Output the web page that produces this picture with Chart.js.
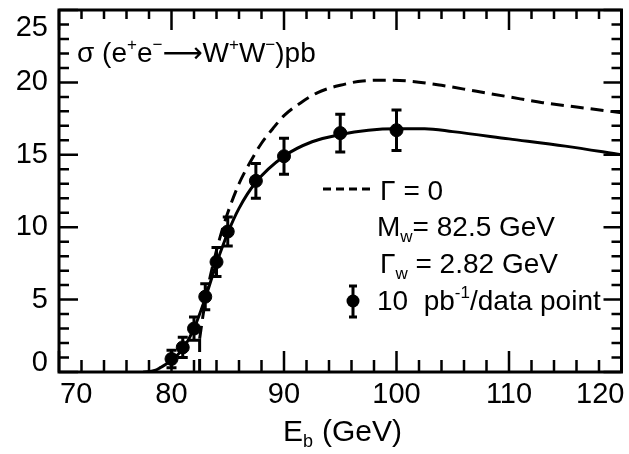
<!DOCTYPE html>
<html>
<head>
<meta charset="utf-8">
<script src="https://cdn.jsdelivr.net/npm/chart.js@4.4.0/dist/chart.umd.min.js"></script>
<style>
  html, body { margin: 0; padding: 0; background: #fff; }
  #wrap { width: 629px; height: 454px; }
</style>
</head>
<body>
<div id="wrap"><canvas id="xsec" width="629" height="454"></canvas></div>
<script>
// ── Measured points: beam energy (GeV), σ (pb), error (pb) ──
const beamEnergy = [80, 81, 82, 83, 84, 85, 87.5, 90, 95, 100];
const sigmaData  = [0.9, 1.7, 3.0, 5.2, 7.6, 9.7, 13.2, 14.9, 16.5, 16.7];
const sigmaErr   = [0.6, 0.7, 0.8, 0.9, 1.0, 1.0, 1.2, 1.25, 1.3, 1.4];

// ── Finite-width prediction (solid) ──
const widthE     = [77.5, 78.5, 79, 80, 81, 82, 83, 84, 85, 86, 87.5, 90, 92.5, 95, 97.5, 100, 102.5, 105, 110, 115, 120];
const widthSigma = [0, 0.1, 0.3, 0.8, 1.6, 3.0, 5.1, 7.5, 9.6, 11.3, 13.1, 14.9, 15.9, 16.4, 16.7, 16.8, 16.8, 16.6, 16.1, 15.6, 15.0];

// ── Zero-width prediction (dashed): step at threshold 82.5 GeV, then the curve ──
const zeroE     = [82.5, 82.5, 83, 83.5, 84, 84.5, 85, 86, 87, 88, 89, 90, 91.5, 93, 95, 97, 99, 101, 104, 107, 110, 113, 116, 120];
const zeroSigma = [0, 2.3, 4.9, 6.8, 8.4, 9.8, 11.0, 13.0, 14.5, 15.8, 16.8, 17.7, 18.6, 19.3, 19.8, 20.1, 20.15, 20.1, 19.8, 19.4, 19.0, 18.6, 18.3, 17.9];

// ── Axis ticks ──
const xTickLabels = [70, 80, 90, 100, 110, 120];
const yTickLabels = [0, 5, 10, 15, 20, 25];

const FONT = '"Liberation Sans", "DejaVu Sans", sans-serif';
const INK = '#000';

function pts(xs, ys) {
  return xs.map((x, i) => ({ x, y: ys[i] }));
}

// text made of runs, some raised or lowered
function drawRuns(ctx, x, y, runs, size) {
  runs.forEach((r) => {
    const small = r.sub || r.sup;
    ctx.font = `${small ? Math.round(size * 0.6) : size}px ${FONT}`;
    const dy = r.sub ? size * 0.2 : r.sup ? -size * 0.42 : 0;
    ctx.fillText(r.t, x, y + dy);
    x += ctx.measureText(r.t).width + (r.gap || 0);
  });
  return x;
}

function errorBar(ctx, x, yTop, yBot, cap) {
  ctx.beginPath();
  ctx.moveTo(x, yTop); ctx.lineTo(x, yBot);
  ctx.moveTo(x - cap, yTop); ctx.lineTo(x + cap, yTop);
  ctx.moveTo(x - cap, yBot); ctx.lineTo(x + cap, yBot);
  ctx.stroke();
}

const framePlugin = {
  id: 'frame',
  beforeDatasetsDraw(chart) {
    const { ctx, scales: { x, y } } = chart;
    ctx.save();
    ctx.strokeStyle = INK;
    ctx.lineWidth = 3;
    beamEnergy.forEach((e, i) => {
      errorBar(ctx, x.getPixelForValue(e),
        y.getPixelForValue(sigmaData[i] + sigmaErr[i]),
        y.getPixelForValue(sigmaData[i] - sigmaErr[i]), 5);
    });
    ctx.restore();
  },
  afterDraw(chart) {
    const { ctx, chartArea: a, scales: { x, y } } = chart;
    ctx.save();
    ctx.strokeStyle = INK;
    ctx.fillStyle = INK;
    ctx.lineWidth = 3;
    ctx.strokeRect(a.left, a.top, a.right - a.left, a.bottom - a.top);

    // inward ticks on all four sides
    ctx.lineWidth = 2.5;
    ctx.beginPath();
    for (let v = x.min; v <= x.max; v += 2) {
      const px = x.getPixelForValue(v);
      const major = v % 10 === 0;
      ctx.moveTo(px, a.bottom); ctx.lineTo(px, a.bottom - (major ? 21 : 12));
      ctx.moveTo(px, a.top); ctx.lineTo(px, a.top + (major ? 20 : 9));
    }
    for (let v = y.min; v <= y.max; v += 1) {
      const py = y.getPixelForValue(v);
      const major = v % 5 === 0;
      ctx.moveTo(a.left, py); ctx.lineTo(a.left + (major ? 19 : 10), py);
      ctx.moveTo(a.right, py); ctx.lineTo(a.right - (major ? 18 : 10), py);
    }
    ctx.stroke();

    // tick labels, kept inside the frame span
    ctx.font = `29px ${FONT}`;
    ctx.textBaseline = 'middle';
    ctx.textAlign = 'right';
    yTickLabels.forEach((v) => {
      let py = y.getPixelForValue(v);
      py = Math.min(Math.max(py, a.top + 18), a.bottom - 9);
      ctx.fillText(String(v), a.left - 11, py);
    });
    ctx.textAlign = 'left';
    ctx.textBaseline = 'alphabetic';
    xTickLabels.forEach((v) => {
      const w = ctx.measureText(String(v)).width;
      let left = x.getPixelForValue(v) - w / 2;
      left = Math.min(Math.max(left, a.left + 1), a.right + 3 - w);
      ctx.fillText(String(v), left, a.bottom + 31);
    });

    // axis title
    drawRuns(ctx, 283, 441, [{ t: 'E' }, { t: 'b', sub: true, gap: 9 }, { t: '(GeV)' }], 30);

    // panel title
    drawRuns(ctx, 77, 62, [
      { t: 'σ (e' }, { t: '+', sup: true }, { t: 'e' }, { t: '−', sup: true },
      { t: '⟶W' }, { t: '+', sup: true }, { t: 'W' }, { t: '−', sup: true }, { t: ')pb' },
    ], 28);

    // key
    ctx.lineWidth = 3;
    ctx.setLineDash([8, 5]);
    ctx.beginPath();
    ctx.moveTo(323, 189); ctx.lineTo(372, 189);
    ctx.stroke();
    ctx.setLineDash([]);
    drawRuns(ctx, 380, 200, [{ t: 'Γ', gap: 8 }, { t: '= 0' }], 28);
    drawRuns(ctx, 377, 236, [{ t: 'M' }, { t: 'w', sub: true }, { t: '= 82.5 GeV' }], 28);
    drawRuns(ctx, 380, 273, [{ t: 'Γ' }, { t: 'w', sub: true }, { t: ' = 2.82 GeV' }], 28);
    drawRuns(ctx, 377, 310, [{ t: '10  pb' }, { t: '-1', sup: true }, { t: '/data point' }], 28);
    errorBar(ctx, 353, 286, 317, 4);
    ctx.beginPath();
    ctx.arc(353, 301, 6.5, 0, Math.PI * 2);
    ctx.fill();
    ctx.restore();
  },
};

const dashed = {
  showLine: true,
  borderColor: INK,
  borderWidth: 3,
  borderDash: [13, 7],
  pointRadius: 0,
};

new Chart(document.getElementById('xsec'), {
  type: 'scatter',
  data: {
    datasets: [
      // vertical step where the zero-width cross section opens
      { ...dashed, label: 'threshold', data: pts(zeroE.slice(0, 2), zeroSigma.slice(0, 2)), tension: 0 },
      { ...dashed, label: 'Γ = 0', data: pts(zeroE.slice(1), zeroSigma.slice(1)), cubicInterpolationMode: 'monotone' },
      {
        label: 'Γw = 2.82 GeV',
        data: pts(widthE, widthSigma),
        showLine: true,
        borderColor: INK,
        borderWidth: 3,
        pointRadius: 0,
        cubicInterpolationMode: 'monotone',
      },
      {
        label: '10 pb-1/data point',
        data: pts(beamEnergy, sigmaData),
        showLine: false,
        pointRadius: 6.5,
        pointBackgroundColor: INK,
        pointBorderColor: INK,
      },
    ],
  },
  options: {
    responsive: false,
    animation: false,
    devicePixelRatio: 1,
    layout: { padding: { left: 59, right: 7, top: 10, bottom: 82 } },
    plugins: { legend: { display: false }, tooltip: { enabled: false } },
    scales: {
      x: { type: 'linear', min: 70, max: 120, display: false },
      y: { type: 'linear', min: 0, max: 25, display: false },
    },
  },
  plugins: [framePlugin],
});
</script>
</body>
</html>
